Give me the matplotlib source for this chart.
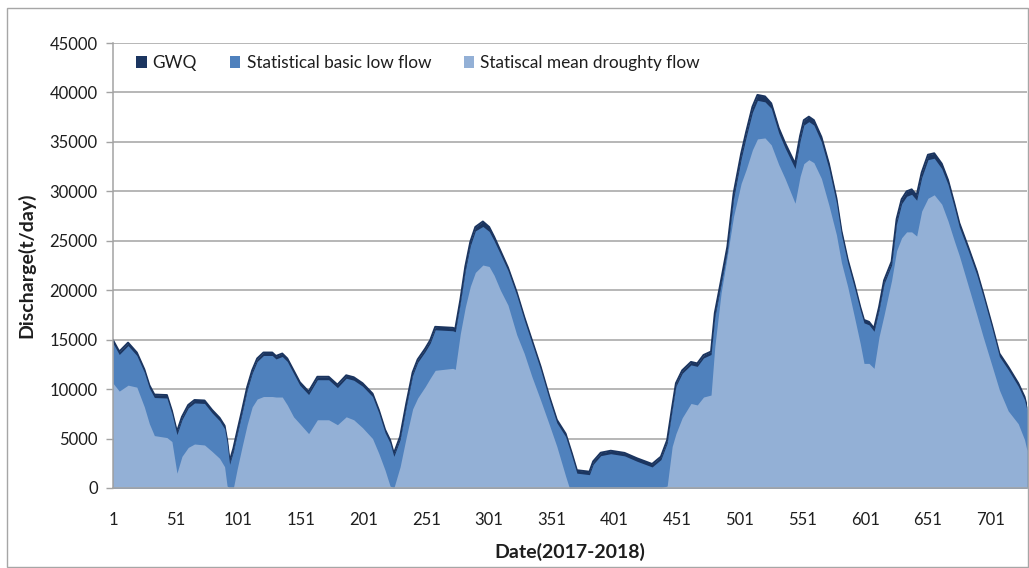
import matplotlib
matplotlib.use("Agg")
import matplotlib.pyplot as plt
from matplotlib.patches import Patch, Rectangle

# Day index (2017-2018) at which the discharge was sampled
days = [
    1, 6, 13, 20, 26, 30, 34, 44, 48, 52,
    56, 61, 66, 74, 80, 86, 90, 92, 94, 97,
    100, 104, 108, 112, 116, 121, 128, 131, 136, 140,
    145, 150, 157, 164, 173, 180, 187, 193, 200, 208,
    213, 218, 222, 225, 230, 235, 240, 244, 250, 254,
    258, 272, 274, 278, 282, 286, 290, 296, 301, 305,
    310, 316, 323, 329, 335, 342, 349, 355, 362, 365,
    367, 371, 381, 384, 390, 398, 409, 419, 431, 438,
    443, 447, 450, 455, 462, 467, 472, 478, 481, 486,
    491, 496, 502, 506, 511, 515, 521, 526, 532, 537,
    545, 549, 552, 556, 560, 566, 572, 578, 582, 587,
    592, 597, 600, 604, 608, 612, 616, 622, 626, 630,
    634, 638, 642, 646, 651, 656, 662, 667, 672, 676,
    683, 690, 695, 702, 708, 715, 723, 728, 730,
]

# GWQ discharge (t/day)
gwq = [
    14950, 13800, 14700, 13700, 12000, 10400, 9450, 9400, 7800, 5700,
    7200, 8400, 8900, 8850, 7900, 7100, 6300, 4850, 2700, 4000,
    5700, 7900, 10200, 11900, 13100, 13700, 13700, 13350, 13600, 13100,
    11900, 10700, 9750, 11250, 11250, 10450, 11400, 11200, 10600, 9550,
    7900, 5900, 4850, 3500, 5200, 8600, 11700, 13000, 14100, 14950,
    16300, 16200, 16100, 19000, 22400, 24900, 26400, 26950, 26400, 25400,
    24000, 22300, 19800, 17300, 15000, 12300, 9250, 6900, 5500, 4300,
    3500, 1800, 1650, 2700, 3570, 3770, 3550, 3000, 2430, 3170,
    4850, 8200, 10600, 11900, 12750, 12600, 13450, 13800, 17700, 21000,
    24400, 29800, 33800, 36000, 38550, 39750, 39600, 38900, 36400, 34900,
    32800, 35600, 37200, 37550, 37200, 35500, 32800, 29300, 26000, 23100,
    20800, 18300, 17000, 16800, 16150, 18300, 21000, 22900, 27200, 29200,
    30000, 30200, 29600, 31900, 33700, 33850, 32800, 31150, 28800, 26800,
    24400, 21900, 19700, 16500, 13600, 12270, 10600, 9230, 8200,
]

# Statistical basic low flow (t/day)
basic_low = [
    14650, 13500, 14400, 13400, 11700, 10100, 9150, 9100, 7500, 5400,
    6900, 8100, 8600, 8550, 7600, 6800, 6000, 4550, 2400, 3700,
    5400, 7600, 9900, 11600, 12800, 13400, 13400, 13050, 13300, 12800,
    11600, 10400, 9450, 10950, 10950, 10150, 11100, 10900, 10300, 9250,
    7600, 5600, 4550, 3200, 4900, 8300, 11400, 12700, 13800, 14650,
    16000, 15900, 15800, 18700, 22000, 24500, 26000, 26450, 25950, 25000,
    23650, 22000, 19500, 17000, 14700, 12000, 8950, 6600, 5200, 4000,
    3200, 1500, 1350, 2400, 3270, 3470, 3250, 2700, 2130, 2870,
    4550, 7900, 10300, 11600, 12450, 12300, 13150, 13500, 17300, 20600,
    24000, 29300, 33300, 35500, 38000, 39200, 39050, 38400, 35900, 34400,
    32300, 35100, 36700, 37050, 36700, 35000, 32300, 28850, 25600, 22750,
    20450, 18000, 16700, 16500, 15850, 18000, 20650, 22550, 26750, 28750,
    29500, 29700, 29100, 31400, 33200, 33350, 32300, 30700, 28400, 26400,
    24050, 21550, 19400, 16200, 13300, 11970, 10300, 8930, 7900,
]

# Statistical mean droughty flow (t/day)
mean_drought = [
    10600, 9800, 10400, 10200, 8200, 6500, 5300, 5100, 4700, 1500,
    3200, 4100, 4450, 4350, 3700, 3000, 2150, 200, 0, 0,
    1900, 4200, 6400, 8200, 9000, 9250, 9250, 9200, 9200, 8400,
    7200, 6500, 5500, 6900, 6900, 6400, 7200, 6900, 6100, 5000,
    3500, 1800, 200, 0, 2150, 5200, 8000, 9100, 10250, 11100,
    11900, 12100, 12000, 15600, 18300, 20400, 21800, 22550, 22400, 21500,
    20000, 18500, 15500, 13600, 11300, 8900, 6400, 4200, 1200, 0,
    0, 0, 0, 0, 0, 0, 0, 0, 0, 0,
    200, 4200, 5500, 7100, 8550, 8400, 9200, 9400, 14300, 19700,
    23500, 27500, 30800, 32200, 34200, 35300, 35400, 34700, 32700, 31300,
    28800, 31500, 32800, 33200, 32900, 31300, 28600, 25600, 22800, 20350,
    17500, 14600, 12600, 12600, 12100, 15300, 17500, 21000, 24000, 25300,
    25900, 25900, 25480, 28000, 29300, 29650, 28700, 27000, 25000, 23500,
    20500, 17500, 15300, 12400, 9900, 7800, 6500, 4900, 3800,
]

series_names = ["GWQ", "Statistical basic low flow", "Statiscal mean droughty flow"]
x_ticks = list(range(1, 702, 50))
y_ticks = list(range(0, 45001, 5000))

c_gwq = "#1B3560"
c_basic = "#4F81BD"
c_mean = "#93B0D6"
grid_c = "#A3A3A3"
text_c = "#1E1E1E"

plt.rcParams["font.family"] = ["Lato", "DejaVu Sans"]

fig = plt.figure(figsize=(10.29, 5.68), dpi=100)
fig.patches.append(Rectangle((7 / 1029, 1 / 568), 1021 / 1029, 559 / 568,
                             transform=fig.transFigure, fill=False,
                             edgecolor="#A6A6A6", linewidth=1.0))
ax = fig.add_axes([113 / 1029, 80 / 568, 914 / 1029, 445 / 568])

ax.fill_between(days, 0, gwq, color=c_gwq, linewidth=0, zorder=2)
ax.plot(days, gwq, color=c_gwq, linewidth=1.4, zorder=2)
ax.fill_between(days, 0, basic_low, color=c_basic, linewidth=0, zorder=3)
ax.fill_between(days, 0, mean_drought, color=c_mean, linewidth=0, zorder=4)

ax.set_xlim(1, 730)
ax.set_ylim(0, 45000)
ax.set_xticks(x_ticks)
ax.set_xticklabels([str(t) for t in x_ticks])
ax.set_yticks(y_ticks)
ax.set_yticklabels([str(t) for t in y_ticks])

ax.yaxis.grid(True, color=grid_c, linewidth=1.1, zorder=0)
ax.set_axisbelow(True)
for side in ("top", "right"):
    ax.spines[side].set_visible(False)
for side in ("left", "bottom"):
    ax.spines[side].set_color(grid_c)
    ax.spines[side].set_linewidth(1.1)
    ax.spines[side].set_zorder(5)

ax.tick_params(axis="y", length=5, width=1.0, color=grid_c, pad=6,
               labelsize=12, labelcolor=text_c)
ax.tick_params(axis="x", length=0, pad=17, labelsize=12, labelcolor=text_c)

ax.set_xlabel("Date(2017-2018)", fontsize=14, fontweight="bold",
              color=text_c, labelpad=11)
ax.set_ylabel("Discharge(t/day)", fontsize=14, fontweight="bold",
              color=text_c, labelpad=10)

handles = [Patch(facecolor=c, edgecolor="none") for c in (c_gwq, c_basic, c_mean)]
leg = ax.legend(handles, series_names, loc="upper left",
                bbox_to_anchor=(136 / 1029, 1 - 55 / 568),
                bbox_transform=fig.transFigure, ncol=3, frameon=False,
                fontsize=12.4, handlelength=0.62, handleheight=0.62,
                handletextpad=0.35, columnspacing=1.9, borderaxespad=0,
                borderpad=0)
for t in leg.get_texts():
    t.set_color(text_c)

fig.savefig("out.png", dpi=100)
